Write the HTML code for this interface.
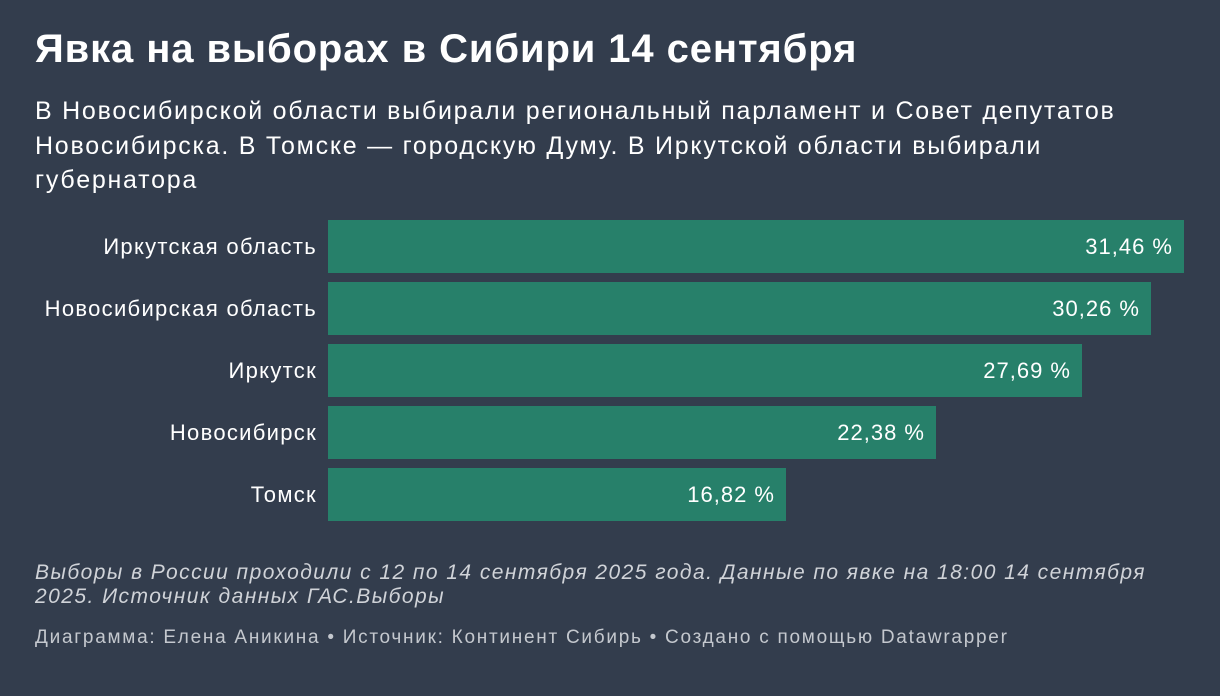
<!DOCTYPE html>
<html><head><meta charset="utf-8"><style>
body{margin:0;width:1220px;height:696px;background:#333d4d;font-family:"Liberation Sans",sans-serif;color:#fff;position:relative;overflow:hidden}
.t{position:absolute;left:35px;top:27px;font-size:40px;font-weight:bold;letter-spacing:0.9px;white-space:nowrap}
.s{position:absolute;left:35px;top:94px;font-size:25px;line-height:34.5px;width:1160px;letter-spacing:1.75px}
.l{position:absolute;right:903px;font-size:22px;height:53px;line-height:53px;white-space:nowrap;letter-spacing:1.3px}
.b{position:absolute;left:328px;height:53px;background:#27806a}
.v{position:absolute;font-size:22px;height:53px;line-height:53px;text-align:right;letter-spacing:1px}
.n{position:absolute;left:35px;top:561px;font-size:21px;font-style:italic;color:#d0d3d8;line-height:24px;width:1170px;letter-spacing:1.45px;white-space:nowrap}
.c{position:absolute;left:35px;top:627px;font-size:19px;color:#c4c8ce;letter-spacing:1.73px;white-space:nowrap}
</style></head><body>
<div class="t">Явка на выборах в Сибири 14 сентября</div>
<div class="s">В Новосибирской области выбирали региональный парламент и Совет депутатов<br>Новосибирска. В Томске — городскую Думу. В Иркутской области выбирали<br>губернатора</div>

<div class="l" style="top:220px">Иркутская область</div>
<div class="b" style="top:220px;width:856px"></div>
<div class="v" style="top:220px;left:328px;width:845px">31,46 %</div>

<div class="l" style="top:282px">Новосибирская область</div>
<div class="b" style="top:282px;width:823px"></div>
<div class="v" style="top:282px;left:328px;width:812px">30,26 %</div>

<div class="l" style="top:344px">Иркутск</div>
<div class="b" style="top:344px;width:754px"></div>
<div class="v" style="top:344px;left:328px;width:743px">27,69 %</div>

<div class="l" style="top:406px">Новосибирск</div>
<div class="b" style="top:406px;width:608px"></div>
<div class="v" style="top:406px;left:328px;width:597px">22,38 %</div>

<div class="l" style="top:468px">Томск</div>
<div class="b" style="top:468px;width:458px"></div>
<div class="v" style="top:468px;left:328px;width:447px">16,82 %</div>

<div class="n">Выборы в России проходили с 12 по 14 сентября 2025 года. Данные по явке на 18:00 14 сентября<br>2025. Источник данных ГАС.Выборы</div>
<div class="c">Диаграмма: Елена Аникина • Источник: Континент Сибирь • Создано с помощью Datawrapper</div>
</body></html>
